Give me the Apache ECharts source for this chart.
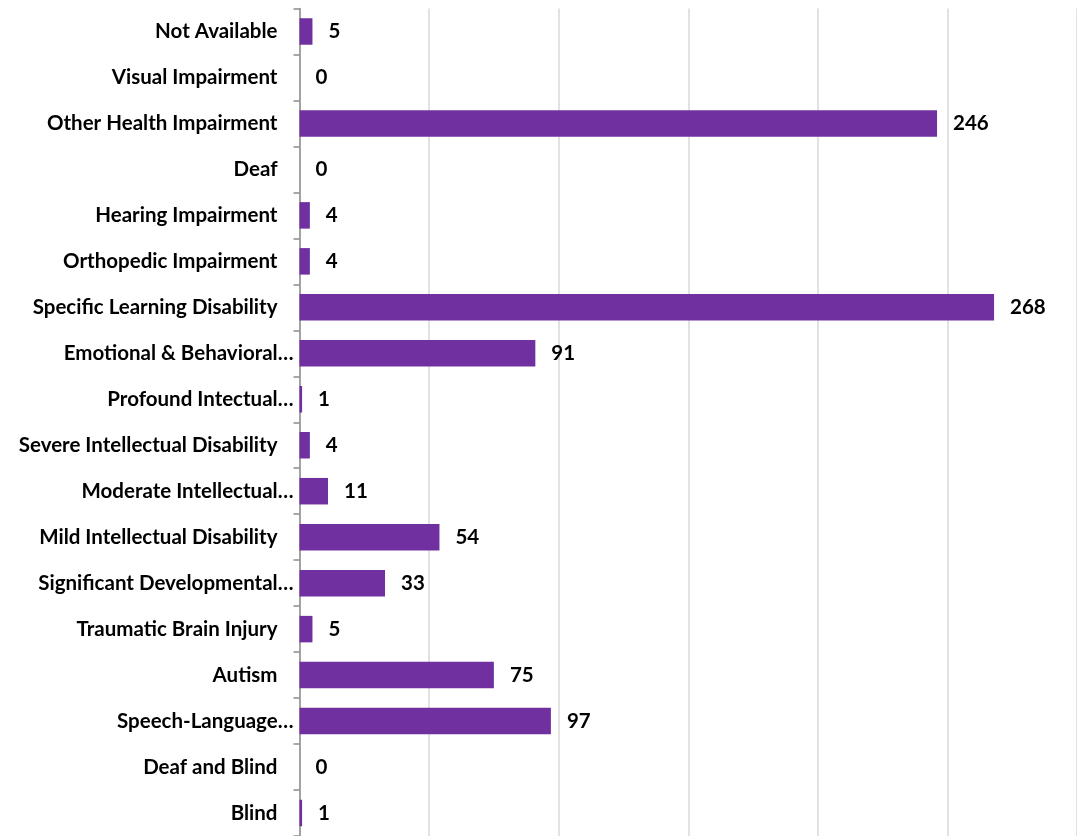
<!DOCTYPE html>
<html>
<head>
<meta charset="utf-8">
<script src="https://cdn.jsdelivr.net/npm/echarts@6/dist/echarts.min.js"></script>
<style>
html,body{margin:0;padding:0;background:#fff;}
#chart{width:1077px;height:836px;}
</style>
</head>
<body>
<div id="chart"></div>
<script>
var categories = [
  "Not Available",
  "Visual Impairment",
  "Other Health Impairment",
  "Deaf",
  "Hearing Impairment",
  "Orthopedic Impairment",
  "Specific Learning Disability",
  "Emotional & Behavioral…",
  "Profound Intectual…",
  "Severe Intellectual Disability",
  "Moderate Intellectual…",
  "Mild Intellectual Disability",
  "Significant Developmental…",
  "Traumatic Brain Injury",
  "Autism",
  "Speech-Language…",
  "Deaf and Blind",
  "Blind"
];
var values = [5, 0, 246, 0, 4, 4, 268, 91, 1, 4, 11, 54, 33, 5, 75, 97, 0, 1];

var txt = { color: '#000', fontWeight: 'bold', fontSize: 20.5, fontFamily: 'Lato' };
var chart = echarts.init(document.getElementById('chart'));
chart.setOption({
  animation: false,
  grid: { left: 299.5, top: 8.5, width: 785, height: 832, containLabel: false },
  xAxis: {
    type: 'value', min: 0, max: 300, interval: 50,
    axisLabel: { show: false },
    axisLine: { show: false },
    axisTick: { show: false },
    splitLine: { show: true, lineStyle: { color: '#d9d9d9', width: 1.5 } }
  },
  yAxis: {
    type: 'category', inverse: true, data: categories,
    axisLine: { show: true, lineStyle: { color: '#8c8c8c', width: 1.5 } },
    axisTick: { show: true, length: 6, lineStyle: { color: '#8c8c8c', width: 1.5 } },
    axisLabel: {
      margin: 6,
      formatter: function (v) {
        return v.slice(-1) === '…' ? '{t|' + v + '}' : '{f|' + v + '}';
      },
      rich: {
        t: Object.assign({}, txt),
        f: Object.assign({ padding: [0, 16, 0, 0] }, txt)
      }
    }
  },
  series: [{
    type: 'bar', data: values, barWidth: 26.5,
    itemStyle: { color: '#7030A0' },
    label: Object.assign({ show: true, position: 'right', distance: 16 }, txt)
  }]
});
</script>
</body>
</html>
